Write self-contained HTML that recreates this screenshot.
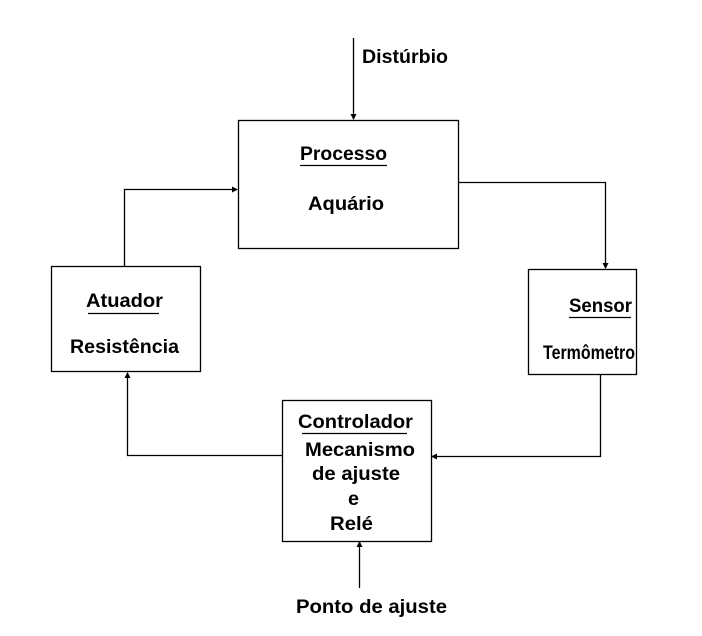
<!DOCTYPE html>
<html><head><meta charset="utf-8"><style>
body{margin:0;background:#fff}
svg text{font-family:"Liberation Sans",sans-serif;font-weight:bold;font-size:19px;fill:#000}
</style></head><body>
<svg width="702" height="631" viewBox="0 0 702 631" xmlns="http://www.w3.org/2000/svg">
<defs><marker id="a" markerWidth="6" markerHeight="6" refX="5" refY="3" orient="auto" markerUnits="userSpaceOnUse"><path d="M0,0 L6,3 L0,6 z" fill="#000"/></marker></defs>
<g fill="none" stroke="#000" stroke-width="1.3">
<rect x="238.5" y="120.5" width="220" height="128"/>
<rect x="51.5" y="266.5" width="149" height="105"/>
<rect x="528.5" y="269.5" width="108" height="105"/>
<rect x="282.5" y="400.5" width="149" height="141"/>
<polyline points="353.5,38 353.5,119" marker-end="url(#a)"/>
<polyline points="459,182.5 605.5,182.5 605.5,268" marker-end="url(#a)"/>
<polyline points="124.5,266 124.5,189.5 237,189.5" marker-end="url(#a)"/>
<polyline points="282,455.5 127.5,455.5 127.5,373" marker-end="url(#a)"/>
<polyline points="600.5,375 600.5,456.5 432,456.5" marker-end="url(#a)"/>
<polyline points="359.5,588 359.5,542" marker-end="url(#a)"/>
<g stroke-width="1.2">
<line x1="300" y1="165.5" x2="387" y2="165.5"/>
<line x1="88" y1="313.5" x2="159" y2="313.5"/>
<line x1="569" y1="317.5" x2="631" y2="317.5"/>
<line x1="302" y1="433.5" x2="407" y2="433.5"/>
</g>
</g>
<text x="362" y="63" textLength="86" lengthAdjust="spacingAndGlyphs">Distúrbio</text>
<text x="300" y="160" textLength="87" lengthAdjust="spacingAndGlyphs">Processo</text>
<text x="308" y="210" textLength="76" lengthAdjust="spacingAndGlyphs">Aquário</text>
<text x="86" y="307" textLength="77" lengthAdjust="spacingAndGlyphs">Atuador</text>
<text x="70" y="353" textLength="109" lengthAdjust="spacingAndGlyphs">Resistência</text>
<text x="569" y="312" textLength="63" lengthAdjust="spacingAndGlyphs">Sensor</text>
<text x="543" y="359" textLength="92" lengthAdjust="spacingAndGlyphs">Termômetro</text>
<text x="298" y="428" textLength="115" lengthAdjust="spacingAndGlyphs">Controlador</text>
<text x="305" y="456" textLength="110" lengthAdjust="spacingAndGlyphs">Mecanismo</text>
<text x="312" y="480" textLength="88" lengthAdjust="spacingAndGlyphs">de ajuste</text>
<text x="348" y="505" textLength="11" lengthAdjust="spacingAndGlyphs">e</text>
<text x="330" y="530" textLength="43" lengthAdjust="spacingAndGlyphs">Relé</text>
<text x="296" y="613" textLength="151" lengthAdjust="spacingAndGlyphs">Ponto de ajuste</text>
</svg>
</body></html>
